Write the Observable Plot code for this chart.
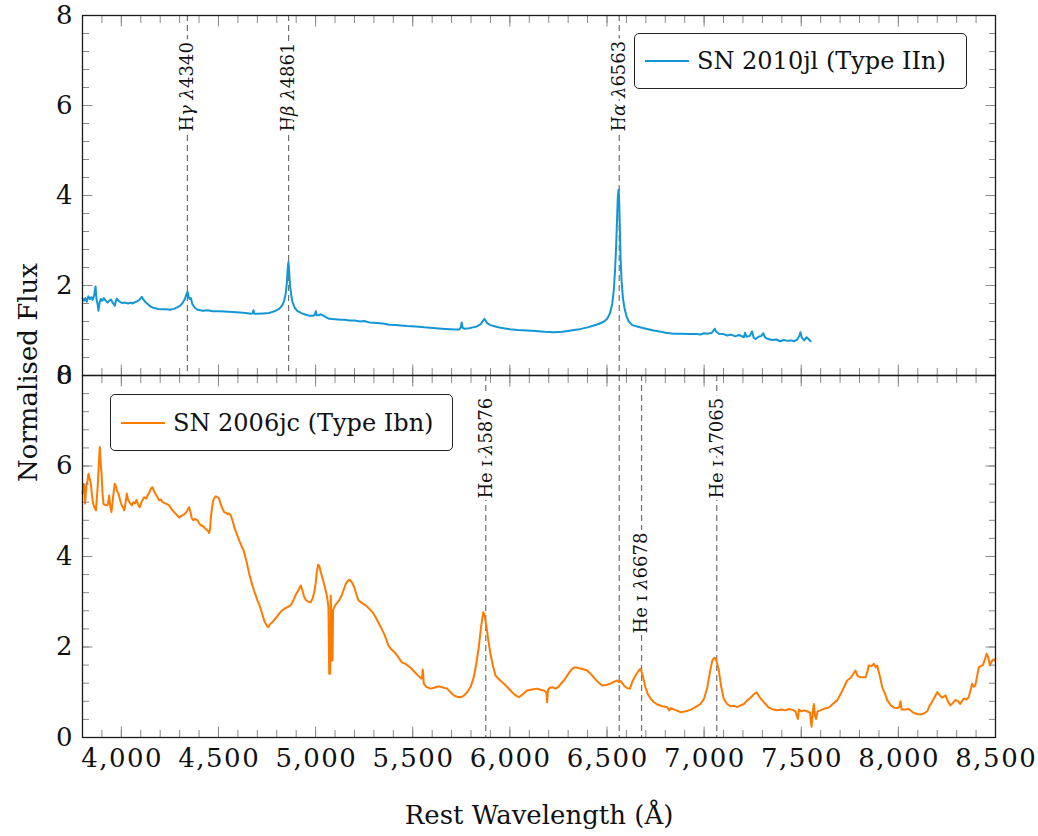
<!DOCTYPE html>
<html>
<head>
<meta charset="utf-8">
<script src="https://cdn.jsdelivr.net/npm/d3@7"></script>
<script src="https://cdn.jsdelivr.net/npm/@observablehq/plot@0.6"></script>
<style>
  body { margin: 0; background: #fff; }
  #chart { position: relative; width: 1038px; height: 836px; font-family: "DejaVu Serif", serif; color: #111; }
  #chart svg { display: block; overflow: visible; }
  #chart g[aria-label="x-axis tick label"] { letter-spacing: 1.5px; }
  .legend { position: absolute; box-sizing: border-box; border: 1.3px solid #222; border-radius: 5px;
            background: #fff; font-size: 24px; display: flex; align-items: center; white-space: nowrap; }
  .legend .swatch { width: 44px; height: 0; border-top: 2px solid; margin: 0 8px 0 10px; }
</style>
</head>
<body>
<div id="chart"></div>
<script>
// SN 2010jl (Type IIn) — rest wavelength (Å) and normalised flux
const sn2010jlWave = [3800,3808,3815,3822,3830,3838,3846,3852,3860,3867,3872,3878,3882,3888,3894,3902,3910,3918,3929,3937,3946,3955,3962,3966,3972,3977,3985,3995,4006,4020,4035,4048,4057,4070,4083,4095,4105,4115,4126,4140,4155,4169,4190,4210,4229,4250,4270,4290,4305,4318,4328,4336,4341,4346,4352,4358,4366,4380,4392,4420,4445,4469,4500,4530,4572,4610,4640,4667,4676,4680,4685,4700,4730,4761,4790,4812,4828,4838,4846,4852,4856,4860,4864,4868,4874,4881,4893,4907,4930,4950,4967,4990,4997,5001,5005,5015,5027,5040,5055,5070,5100,5130,5150,5173,5200,5230,5250,5276,5300,5330,5355,5379,5410,5440,5470,5516,5560,5590,5619,5650,5690,5722,5740,5748,5752,5757,5765,5790,5810,5830,5850,5862,5869,5876,5885,5900,5925,5952,6000,6040,6089,6130,6180,6226,6270,6300,6329,6360,6400,6432,6460,6485,6501,6515,6527,6535,6541,6547,6552,6556,6560,6563,6566,6570,6575,6582,6590,6600,6612,6630,6655,6680,6700,6741,6770,6800,6844,6880,6920,6960,6981,7000,7020,7040,7054,7062,7076,7100,7119,7140,7160,7180,7205,7211,7218,7235,7247,7255,7265,7280,7295,7304,7315,7330,7350,7370,7393,7410,7430,7450,7462,7480,7490,7496,7503,7515,7528,7540,7548];
const sn2010jlFlux = [1.71,1.66,1.72,1.64,1.76,1.70,1.74,1.68,1.78,1.98,1.70,1.58,1.44,1.62,1.70,1.66,1.72,1.67,1.62,1.66,1.69,1.62,1.58,1.55,1.66,1.71,1.66,1.63,1.61,1.62,1.60,1.62,1.60,1.63,1.65,1.69,1.75,1.68,1.62,1.57,1.52,1.50,1.48,1.47,1.47,1.46,1.48,1.52,1.56,1.63,1.71,1.82,1.86,1.76,1.70,1.72,1.58,1.50,1.46,1.44,1.45,1.43,1.43,1.42,1.41,1.40,1.39,1.37,1.38,1.45,1.37,1.37,1.38,1.39,1.43,1.48,1.56,1.66,1.82,2.05,2.35,2.52,2.30,2.02,1.80,1.63,1.50,1.43,1.38,1.35,1.33,1.33,1.36,1.43,1.34,1.34,1.36,1.33,1.29,1.26,1.25,1.24,1.24,1.22,1.22,1.20,1.21,1.18,1.17,1.16,1.15,1.13,1.12,1.11,1.10,1.09,1.07,1.06,1.05,1.04,1.03,1.02,1.02,1.08,1.18,1.06,1.04,1.05,1.07,1.09,1.14,1.22,1.26,1.21,1.16,1.12,1.09,1.06,1.03,1.01,1.00,0.99,0.97,0.96,0.97,0.99,1.01,1.03,1.07,1.11,1.15,1.20,1.26,1.38,1.59,1.90,2.30,2.85,3.50,4.00,4.13,3.85,3.30,2.60,2.10,1.72,1.50,1.32,1.20,1.12,1.09,1.06,1.04,1.00,0.98,0.95,0.93,0.93,0.92,0.92,0.91,0.94,0.93,0.95,1.04,0.98,0.93,0.92,0.89,0.91,0.87,0.90,0.85,0.95,0.86,0.88,0.98,0.84,0.81,0.86,0.88,0.94,0.84,0.81,0.79,0.80,0.76,0.79,0.77,0.78,0.76,0.80,0.88,0.96,0.84,0.78,0.85,0.80,0.76];

// SN 2006jc (Type Ibn) — rest wavelength (Å) and normalised flux
const sn2006jcWave = [3800,3805,3809,3813,3820,3826,3831,3837,3843,3849,3855,3862,3869,3874,3877,3883,3889,3894,3898,3903,3908,3918,3929,3934,3937,3943,3949,3956,3962,3966,3972,3978,3985,3995,4003,4010,4015,4022,4028,4035,4045,4054,4062,4070,4078,4086,4095,4105,4118,4128,4135,4145,4152,4160,4168,4176,4186,4195,4204,4212,4222,4234,4246,4258,4272,4285,4298,4310,4323,4335,4343,4349,4356,4362,4370,4380,4392,4400,4409,4418,4427,4435,4445,4452,4457,4461,4467,4473,4480,4486,4495,4503,4512,4521,4530,4540,4546,4555,4563,4572,4581,4594,4607,4620,4632,4645,4658,4672,4685,4692,4700,4709,4722,4735,4745,4751,4757,4765,4778,4795,4812,4825,4838,4855,4872,4885,4898,4910,4918,4924,4932,4940,4950,4962,4975,4985,4993,5000,5006,5013,5020,5026,5032,5044,5056,5062,5066,5068,5070,5075,5077,5078,5081,5083,5087,5090,5100,5112,5121,5135,5145,5156,5166,5176,5188,5199,5210,5221,5240,5258,5275,5293,5310,5327,5340,5353,5365,5375,5390,5405,5425,5444,5465,5489,5505,5523,5535,5544,5549,5552,5555,5557,5570,5591,5610,5625,5634,5650,5677,5695,5711,5728,5746,5762,5780,5798,5814,5827,5840,5852,5863,5870,5880,5890,5900,5913,5926,5945,5969,5990,6012,6030,6046,6065,6089,6115,6141,6160,6175,6188,6192,6196,6206,6218,6235,6250,6265,6278,6300,6321,6335,6347,6370,6398,6415,6432,6455,6475,6495,6518,6535,6553,6562,6570,6587,6605,6618,6632,6647,6662,6673,6685,6698,6710,6724,6742,6759,6785,6810,6820,6830,6850,6878,6905,6930,6955,6981,7000,7016,7030,7042,7052,7059,7068,7076,7088,7101,7118,7136,7155,7170,7188,7205,7222,7239,7255,7270,7285,7299,7316,7333,7355,7376,7400,7418,7436,7455,7470,7478,7483,7488,7498,7515,7530,7545,7553,7560,7565,7570,7576,7585,7599,7620,7642,7665,7685,7710,7736,7755,7770,7779,7790,7805,7831,7840,7848,7862,7874,7884,7891,7905,7917,7930,7943,7960,7977,7995,8005,8011,8016,8035,8054,8068,8080,8097,8114,8130,8149,8160,8170,8185,8200,8212,8225,8243,8255,8268,8280,8294,8308,8318,8330,8337,8350,8362,8372,8380,8388,8396,8405,8414,8425,8435,8445,8454,8462,8471,8480,8488,8494,8500];
const sn2006jcFlux = [5.39,5.60,5.57,5.17,5.55,5.68,5.83,5.72,5.61,5.35,5.16,5.08,5.02,5.30,5.46,5.95,6.42,6.05,5.83,5.40,5.16,5.14,5.13,5.25,5.35,5.10,4.98,5.25,5.48,5.61,5.55,5.45,5.39,5.22,5.12,5.08,5.02,5.20,5.39,5.25,5.18,5.13,5.20,5.17,5.25,5.15,5.09,5.22,5.31,5.28,5.35,5.42,5.50,5.53,5.45,5.38,5.31,5.24,5.26,5.20,5.18,5.16,5.13,5.05,4.98,4.92,4.86,4.90,4.93,4.98,5.05,5.09,4.98,4.85,4.80,4.83,4.80,4.74,4.69,4.68,4.64,4.61,4.57,4.52,4.62,4.87,5.08,5.24,5.30,5.33,5.31,5.28,5.15,5.05,4.98,4.96,4.94,4.95,4.91,4.80,4.65,4.50,4.35,4.22,4.10,3.88,3.62,3.40,3.22,3.14,3.03,2.95,2.78,2.59,2.50,2.46,2.44,2.50,2.55,2.64,2.73,2.80,2.84,2.88,2.92,3.02,3.16,3.24,3.32,3.36,3.25,3.12,3.04,3.00,2.99,3.08,3.21,3.40,3.65,3.82,3.78,3.66,3.58,3.38,3.18,3.02,2.88,2.20,1.41,1.41,2.40,3.14,2.60,1.70,1.70,2.81,2.92,2.98,3.03,3.15,3.27,3.40,3.46,3.49,3.42,3.32,3.16,3.03,2.97,2.92,2.85,2.77,2.65,2.51,2.40,2.29,2.15,2.03,1.95,1.89,1.78,1.66,1.62,1.54,1.47,1.39,1.34,1.30,1.35,1.50,1.30,1.19,1.12,1.08,1.10,1.12,1.13,1.11,1.08,1.00,0.93,0.90,0.89,0.92,1.00,1.12,1.33,1.62,2.00,2.45,2.77,2.70,2.44,2.12,1.85,1.58,1.37,1.28,1.19,1.10,1.00,0.93,0.89,0.95,1.04,1.06,1.08,1.05,1.04,1.00,0.78,1.05,1.10,1.11,1.08,1.12,1.20,1.26,1.40,1.52,1.55,1.54,1.52,1.48,1.41,1.33,1.22,1.15,1.16,1.19,1.23,1.26,1.22,1.25,1.15,1.09,1.08,1.25,1.37,1.47,1.52,1.35,1.11,0.96,0.86,0.78,0.73,0.69,0.67,0.60,0.65,0.61,0.56,0.58,0.61,0.67,0.74,0.86,1.10,1.45,1.70,1.76,1.75,1.62,1.48,1.12,0.86,0.74,0.69,0.70,0.67,0.71,0.74,0.82,0.88,0.95,1.00,0.90,0.82,0.74,0.66,0.62,0.60,0.62,0.60,0.63,0.61,0.58,0.47,0.41,0.62,0.58,0.60,0.58,0.55,0.24,0.60,0.74,0.50,0.41,0.58,0.60,0.64,0.66,0.75,0.82,1.02,1.26,1.32,1.42,1.48,1.36,1.33,1.33,1.45,1.59,1.58,1.63,1.55,1.59,1.35,1.11,0.98,0.82,0.72,0.66,0.65,0.68,0.80,0.62,0.62,0.63,0.58,0.54,0.52,0.51,0.53,0.58,0.70,0.76,0.88,1.00,0.94,0.88,0.93,0.80,0.71,0.76,0.83,0.80,0.74,0.82,0.86,0.84,0.89,1.05,1.19,1.12,1.15,1.35,1.55,1.58,1.60,1.72,1.85,1.78,1.59,1.68,1.72,1.70,1.74];

// Identified emission lines
const iinLineWave   = [4340, 4861, 6563];
const iinLineLabel  = ["Hγ λ4340", "Hβ λ4861", "Hα λ6563"];
const iinLabelFlux  = [5.42, 5.42, 5.42];
const ibnLineWave   = [5876, 6563, 6678, 7065];
const ibnLineLabel  = ["He ɪ λ5876", "", "He ɪ λ6678", "He ɪ λ7065"];
const ibnLabelFlux  = [5.28, null, 2.30, 5.28];

// Axis ticks
const xMajorTicks = [4000, 4500, 5000, 5500, 6000, 6500, 7000, 7500, 8000, 8500];
const xMinorTicks = d3.range(3800, 8501, 100);
const yMajorTicks = [0, 2, 4, 6, 8];
const yMinorTicks = d3.range(0, 21).map(i => +(i * 0.4).toFixed(1));

const colorIIn = "#1296d5";
const colorIbn = "#ff7a00";
const tickColor = "#8a8a8a";

function spectrumPanel({wave, flux, color, lineWave, lineLabel, labelFlux, height, marginTop, marginBottom, showX, extra = []}) {
  const spectrum = wave.map((w, i) => ({w, f: flux[i]}));
  const labels = lineWave.map((w, i) => ({w, f: labelFlux[i], text: lineLabel[i]})).filter(d => d.text);
  const inward = [];
  for (const anchor of ["top", "bottom"]) {
    inward.push(Plot.axisX(xMinorTicks, {anchor, tickSize: -7, tickFormat: () => "", stroke: tickColor, label: null}));
    inward.push(Plot.axisX(xMajorTicks, {anchor, tickSize: -10.5, tickFormat: () => "", stroke: tickColor, label: null}));
  }
  for (const anchor of ["left", "right"]) {
    inward.push(Plot.axisY(yMinorTicks, {anchor, tickSize: -7, tickFormat: () => "", stroke: tickColor, label: null}));
    inward.push(Plot.axisY(yMajorTicks, {anchor, tickSize: -10.5, tickFormat: () => "", stroke: tickColor, label: null}));
  }
  return Plot.plot({
    width: 1038,
    height,
    marginLeft: 82,
    marginRight: 43,
    marginTop,
    marginBottom,
    style: {fontFamily: "DejaVu Serif, serif", fontSize: "24px", color: "#111", overflow: "visible"},
    x: {domain: [3800, 8500]},
    y: {domain: [0, 8]},
    marks: [
      Plot.ruleX(lineWave, {stroke: "#707070", strokeWidth: 1.2, strokeDasharray: "6,4"}),
      Plot.line(spectrum, {x: "w", y: "f", stroke: color, strokeWidth: 2, strokeLinejoin: "round"}),
      Plot.text(labels, {x: "w", y: "f", text: "text", rotate: -90, textAnchor: "start", lineAnchor: "middle",
                         fontSize: 18, fill: "#111", stroke: "white", strokeWidth: 8, paintOrder: "stroke"}),
      ...inward,
      Plot.axisY(yMajorTicks, {anchor: "left", tickSize: 0, tickPadding: 10, fontSize: 26, label: null}),
      showX ? Plot.axisX(xMajorTicks, {anchor: "bottom", tickSize: 0, tickPadding: 11, dx: 0.75, fontSize: 26, label: null}) : null,
      Plot.frame({stroke: "#1a1a1a", strokeWidth: 1.3}),
      ...extra
    ]
  });
}

function italicizeGreek(svg) {
  const greek = /[\u0370-\u03ff]/;
  d3.select(svg).selectAll("text").each(function () {
    const t = this.textContent;
    if (!greek.test(t) || this.children.length) return;
    const sel = d3.select(this).text(null);
    for (const part of t.match(/[\u0370-\u03ff]+|[^\u0370-\u03ff]+/g)) {
      sel.append("tspan").attr("font-style", greek.test(part) ? "italic" : null).text(part);
    }
  });
}

const topPanel = spectrumPanel({
  wave: sn2010jlWave, flux: sn2010jlFlux, color: colorIIn,
  lineWave: iinLineWave, lineLabel: iinLineLabel, labelFlux: iinLabelFlux,
  height: 375, marginTop: 15, marginBottom: 0, showX: false,
  extra: [Plot.text(["Normalised Flux"], {frameAnchor: "bottom-left", rotate: -90, textAnchor: "middle",
                                          lineAnchor: "middle", dx: -54, dy: -3, fontSize: 26, fill: "#111"})]
});
const bottomPanel = spectrumPanel({
  wave: sn2006jcWave, flux: sn2006jcFlux, color: colorIbn,
  lineWave: ibnLineWave, lineLabel: ibnLineLabel, labelFlux: ibnLabelFlux,
  height: 461, marginTop: 0, marginBottom: 99, showX: true,
  extra: [Plot.text(["Rest Wavelength (Å)"], {frameAnchor: "bottom", dy: 78, lineAnchor: "middle", fontSize: 26, fill: "#111"})]
});
italicizeGreek(topPanel);
italicizeGreek(bottomPanel);

const chart = document.getElementById("chart");
chart.append(topPanel, bottomPanel);

function legend(label, color, left, topPx, width, height) {
  const box = document.createElement("div");
  box.className = "legend";
  Object.assign(box.style, {left: left + "px", top: topPx + "px", width: width + "px", height: height + "px"});
  const sw = document.createElement("span");
  sw.className = "swatch";
  sw.style.borderTopColor = color;
  const txt = document.createElement("span");
  txt.textContent = label;
  box.append(sw, txt);
  chart.append(box);
}
legend("SN 2010jl (Type IIn)", colorIIn, 634, 33, 333, 56);
legend("SN 2006jc (Type Ibn)", colorIbn, 110, 394, 343, 57);
</script>
</body>
</html>
